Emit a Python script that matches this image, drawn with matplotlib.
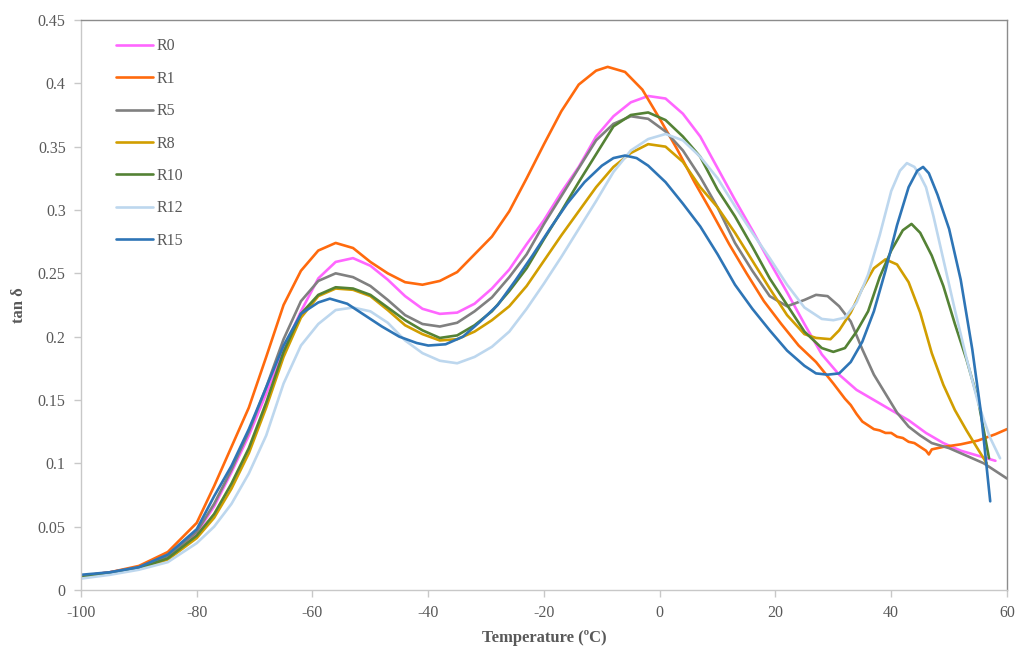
import matplotlib
matplotlib.use("Agg")
import matplotlib.pyplot as plt

# ---- data ----
t_r0 = [-100, -95, -90, -85, -80, -77, -74, -71, -68, -65, -62, -59, -56, -53, -50, -47, -44, -41, -38, -35,
        -32, -29, -26, -23, -20, -17, -14, -11, -8, -5, -2, 1, 4, 7, 10, 13, 16, 19, 22, 25, 28, 31, 34, 37,
        40, 43, 46, 49, 52, 55, 58]
v_r0 = [0.011, 0.014, 0.018, 0.026, 0.045, 0.066, 0.093, 0.122, 0.155, 0.190, 0.220, 0.246, 0.259, 0.262,
        0.256, 0.245, 0.232, 0.222, 0.218, 0.219, 0.226, 0.238, 0.253, 0.273, 0.292, 0.314, 0.334, 0.358,
        0.374, 0.385, 0.390, 0.388, 0.376, 0.358, 0.333, 0.308, 0.284, 0.259, 0.235, 0.210, 0.186, 0.170,
        0.158, 0.150, 0.142, 0.134, 0.124, 0.116, 0.110, 0.106, 0.102]

t_r1 = [-100, -95, -90, -85, -80, -77, -74, -71, -68, -65, -62, -59, -56, -53, -50, -47, -44, -41, -38, -35,
        -32, -29, -26, -23, -20, -17, -14, -11, -9, -6, -3, 0, 3, 6, 9, 12, 15, 18, 21, 24, 27, 30, 32, 33,
        34, 35, 36, 37, 38, 39, 40, 41, 42, 43, 44, 45, 46, 46.5, 47, 48, 49, 52, 55, 58, 60]
v_r1 = [0.011, 0.014, 0.019, 0.030, 0.053, 0.082, 0.113, 0.144, 0.184, 0.225, 0.252, 0.268, 0.274, 0.270,
        0.259, 0.250, 0.243, 0.241, 0.244, 0.251, 0.265, 0.279, 0.299, 0.325, 0.352, 0.378, 0.399, 0.410,
        0.413, 0.409, 0.395, 0.372, 0.348, 0.322, 0.298, 0.273, 0.250, 0.228, 0.210, 0.193, 0.180, 0.163,
        0.151, 0.146, 0.139, 0.133, 0.130, 0.127, 0.126, 0.124, 0.124, 0.121, 0.120, 0.117, 0.116, 0.113,
        0.110, 0.107, 0.111, 0.112, 0.113, 0.115, 0.118, 0.123, 0.127]

t_r5 = [-100, -95, -90, -85, -80, -77, -74, -71, -68, -65, -62, -59, -56, -53, -50, -47, -44, -41, -38, -35,
        -32, -29, -26, -23, -20, -17, -14, -11, -8, -5, -2, 1, 4, 7, 10, 13, 16, 19, 22, 25, 27, 29, 31, 33,
        35, 37, 39, 41, 43, 45, 47, 50, 53, 56, 60]
v_r5 = [0.011, 0.014, 0.018, 0.027, 0.046, 0.068, 0.095, 0.125, 0.160, 0.198, 0.228, 0.244, 0.250, 0.247,
        0.240, 0.229, 0.217, 0.210, 0.208, 0.211, 0.220, 0.231, 0.247, 0.265, 0.289, 0.311, 0.333, 0.355,
        0.368, 0.374, 0.372, 0.362, 0.347, 0.326, 0.302, 0.274, 0.252, 0.232, 0.224, 0.229, 0.233, 0.232,
        0.224, 0.212, 0.190, 0.170, 0.155, 0.140, 0.129, 0.122, 0.116, 0.112, 0.106, 0.100, 0.088]

t_r8 = [-100, -95, -90, -85, -80, -77, -74, -71, -68, -65, -62, -59, -56, -53, -50, -47, -44, -41, -38, -35,
        -32, -29, -26, -23, -20, -17, -14, -11, -8, -5, -2, 1, 4, 7, 10, 13, 16, 19, 22, 25, 27, 29.5, 31, 33,
        35, 37, 39, 41, 43, 45, 47, 49, 51, 53, 55, 56.5]
v_r8 = [0.010, 0.013, 0.017, 0.024, 0.041, 0.057, 0.080, 0.108, 0.144, 0.184, 0.215, 0.232, 0.238, 0.237,
        0.232, 0.221, 0.209, 0.202, 0.197, 0.198, 0.204, 0.213, 0.224, 0.240, 0.260, 0.280, 0.299, 0.318,
        0.334, 0.345, 0.352, 0.350, 0.338, 0.318, 0.302, 0.282, 0.260, 0.238, 0.217, 0.202, 0.199, 0.198,
        0.205, 0.219, 0.238, 0.254, 0.261, 0.257, 0.243, 0.219, 0.187, 0.162, 0.142, 0.126, 0.111, 0.100]

t_r10 = [-100, -95, -90, -85, -80, -77, -74, -71, -68, -65, -62, -59, -56, -53, -50, -47, -44, -41, -38, -35,
         -32, -29, -26, -23, -20, -17, -14, -11, -8, -5, -2, 1, 4, 7, 10, 13, 16, 19, 22, 25, 28, 30, 32, 34,
         36, 38, 40, 42, 43.5, 45, 47, 49, 51, 53, 55, 56.9]
v_r10 = [0.010, 0.013, 0.017, 0.025, 0.043, 0.060, 0.084, 0.112, 0.148, 0.188, 0.218, 0.233, 0.239, 0.238,
         0.233, 0.223, 0.213, 0.205, 0.199, 0.201, 0.209, 0.220, 0.236, 0.254, 0.277, 0.299, 0.322, 0.344,
         0.366, 0.375, 0.377, 0.371, 0.358, 0.342, 0.316, 0.295, 0.271, 0.246, 0.225, 0.204, 0.191, 0.188,
         0.191, 0.204, 0.220, 0.247, 0.268, 0.284, 0.289, 0.282, 0.264, 0.240, 0.210, 0.182, 0.150, 0.104]

t_r12 = [-100, -95, -90, -85, -80, -77, -74, -71, -68, -65, -62, -59, -56, -53, -50, -47, -44, -41, -38, -35,
         -32, -29, -26, -23, -20, -17, -14, -11, -8, -5, -2, 1, 4, 7, 10, 13, 16, 19, 22, 25, 28, 30, 32, 34,
         36, 38, 40, 41.5, 42.7, 44, 45, 46, 47.3, 49, 51, 53, 55, 57, 58.8]
v_r12 = [0.009, 0.012, 0.016, 0.022, 0.037, 0.050, 0.068, 0.092, 0.122, 0.163, 0.193, 0.210, 0.221, 0.223,
         0.220, 0.211, 0.197, 0.187, 0.181, 0.179, 0.184, 0.192, 0.204, 0.222, 0.242, 0.263, 0.285, 0.307,
         0.330, 0.347, 0.356, 0.360, 0.355, 0.342, 0.325, 0.303, 0.282, 0.262, 0.241, 0.223, 0.214, 0.213,
         0.215, 0.227, 0.249, 0.280, 0.315, 0.331, 0.337, 0.334, 0.327, 0.318, 0.295, 0.261, 0.221, 0.183,
         0.148, 0.121, 0.104]

t_r15 = [-100, -95, -90, -85, -80, -77, -74, -71, -68, -65, -62, -59, -57, -54, -51, -48, -45, -42, -40, -37,
         -34, -31, -28, -25, -22, -19, -16, -13, -10, -8, -6, -4, -2, 1, 4, 7, 10, 13, 16, 19, 22, 25, 27, 29,
         31, 33, 35, 37, 39, 41, 43, 44.5, 45.5, 46.5, 48, 50, 52, 54, 55.5, 57.1]
v_r15 = [0.012, 0.014, 0.018, 0.028, 0.048, 0.074, 0.098, 0.127, 0.160, 0.193, 0.218, 0.227, 0.230, 0.226,
         0.217, 0.208, 0.200, 0.195, 0.193, 0.194, 0.200, 0.212, 0.225, 0.244, 0.264, 0.285, 0.305, 0.322,
         0.335, 0.341, 0.343, 0.341, 0.335, 0.322, 0.305, 0.287, 0.265, 0.241, 0.222, 0.205, 0.189, 0.177,
         0.171, 0.170, 0.171, 0.180, 0.196, 0.220, 0.252, 0.288, 0.318, 0.331, 0.334, 0.329, 0.312, 0.285,
         0.245, 0.190, 0.140, 0.070]

labels = ["R0", "R1", "R5", "R8", "R10", "R12", "R15"]
colors = ["#FF66FF", "#FF6A0D", "#808080", "#D19E00", "#548235", "#BDD7EE", "#2E75B6"]

x_ticks = [-100, -80, -60, -40, -20, 0, 20, 40, 60]
y_ticks = [0, 0.05, 0.1, 0.15, 0.2, 0.25, 0.3, 0.35, 0.4, 0.45]
y_tick_labels = ["0", "0.05", "0.1", "0.15", "0.2", "0.25", "0.3", "0.35", "0.4", "0.45"]

plt.rcParams["font.family"] = ["Liberation Serif", "DejaVu Serif"]

fig = plt.figure(figsize=(10.19, 6.48), dpi=100)
ax = fig.add_axes([81 / 1019, 1 - 590 / 648, (1007 - 81) / 1019, (590 - 20) / 648])

series = [(t_r0, v_r0), (t_r1, v_r1), (t_r5, v_r5), (t_r8, v_r8),
          (t_r10, v_r10), (t_r12, v_r12), (t_r15, v_r15)]
for (t, v), lab, col in zip(series, labels, colors):
    ax.plot(t, v, color=col, lw=1.9, label=lab, solid_capstyle="round", solid_joinstyle="round")

ax.set_xlim(-100, 60)
ax.set_ylim(0, 0.45)
ax.set_xticks(x_ticks)
ax.set_xticklabels([str(x) for x in x_ticks])
ax.set_yticks(y_ticks)
ax.set_yticklabels(y_tick_labels)

for side in ["left", "bottom"]:
    ax.spines[side].set_color("#c8c8c8")
    ax.spines[side].set_linewidth(1.0)
for side in ["top", "right"]:
    ax.spines[side].set_color("#8c8c8c")
    ax.spines[side].set_linewidth(1.0)

ax.tick_params(axis="both", direction="out", length=5, width=1.0, color="#c8c8c8",
               labelcolor="#595959", labelsize=11.5, pad=6)

ax.set_xlabel("Temperature (ºC)", fontsize=12, fontweight="bold", color="#595959", labelpad=6)
ax.set_ylabel("tan δ", fontsize=12, fontweight="bold", color="#595959", labelpad=8)

leg = ax.legend(loc="upper left", bbox_to_anchor=(0.038, 0.968), frameon=False,
                fontsize=11.5, handlelength=2.3, handletextpad=0.2, labelspacing=1.03,
                borderpad=0, borderaxespad=0)
for txt in leg.get_texts():
    txt.set_color("#595959")

fig.savefig("out.png", dpi=100)
